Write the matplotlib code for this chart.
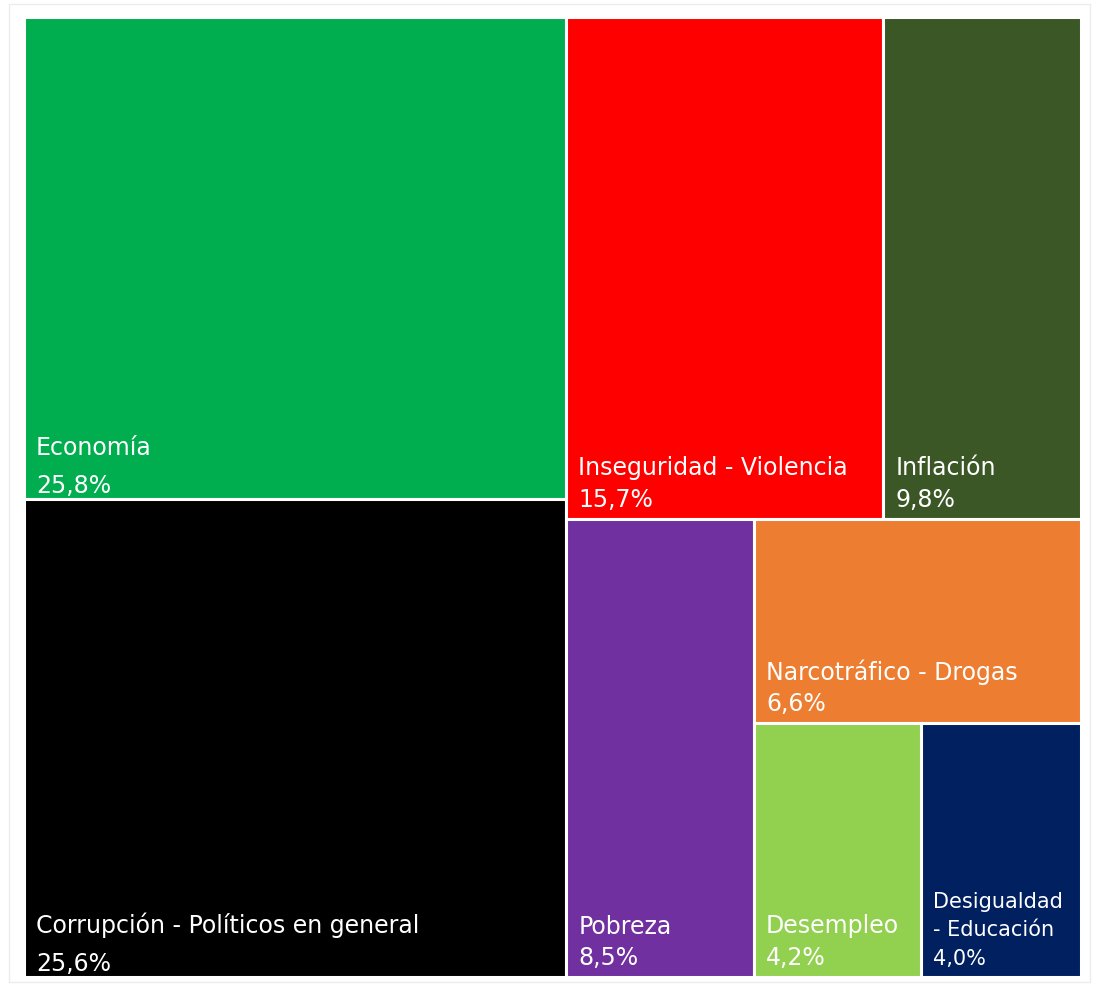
import matplotlib
matplotlib.use("Agg")
import matplotlib.pyplot as plt
from matplotlib.patches import Rectangle

# datos
temas = ["Economía", "Corrupción - Políticos en general", "Inseguridad - Violencia",
         "Inflación", "Pobreza", "Narcotráfico - Drogas", "Desempleo",
         "Desigualdad - Educación"]
valores = [25.8, 25.6, 15.7, 9.8, 8.5, 6.6, 4.2, 4.0]
colores = ["#00ae4f", "#000000", "#ff0000", "#3b5726", "#7030a0",
           "#ed7d31", "#92d050", "#002060"]

# estructura de la partición: 'h' = lado a lado, 'v' = apilados
arbol = ("h", [("v", [0, 1]),
               ("v", [("h", [2, 3]),
                      ("h", [4, ("v", [5, ("h", [6, 7])])])])])

W, H = 1097, 990
plt.rcParams["font.family"] = ["DejaVu Sans"]


def total(nodo):
    if isinstance(nodo, int):
        return valores[nodo]
    return sum(total(k) for k in nodo[1])


def ubicar(nodo, x, y, w, h, out):
    if isinstance(nodo, int):
        out[nodo] = (x, y, w, h)
        return
    d, hijos = nodo
    s = total(nodo)
    for k in hijos:
        f = total(k) / s
        if d == "h":
            ubicar(k, x, y, w * f, h, out)
            x += w * f
        else:
            ubicar(k, x, y, w, h * f, out)
            y += h * f


fig = plt.figure(figsize=(W / 100, H / 100), dpi=100, facecolor="white")
ax = fig.add_axes([0, 0, 1, 1])
ax.set_xlim(0, W)
ax.set_ylim(H, 0)
ax.axis("off")

# marco tenue
ax.add_patch(Rectangle((9, 4), 1081, 978, fill=False, edgecolor="#ececec", lw=1))

rects = {}
ubicar(arbol, 24, 17, 1057, 960, rects)

renderer = fig.canvas.get_renderer()
for i, (x, y, w, h) in rects.items():
    ax.add_patch(Rectangle((x, y), w, h, facecolor=colores[i],
                           edgecolor="white", lw=2.2))
    valor = f"{valores[i]:.1f}".replace(".", ",") + "%"
    fs = 17
    lineas = [temas[i]]
    t = ax.text(0, 0, temas[i], fontsize=fs)
    ancho = t.get_window_extent(renderer).width
    t.remove()
    # los dos bloques grandes llevan más interlineado
    paso, pie = (38, 6) if valores[i] > 20 else (31.5, 12)
    if ancho > w - 20:
        lineas = temas[i].replace(" - ", "\n- ").split("\n")
        fs = 15
        paso = 28.5
    lineas.append(valor)
    yb = y + h - pie
    for j, txt in enumerate(reversed(lineas)):
        ax.text(x + 12, yb - j * paso, txt, color="white", fontsize=fs,
                va="baseline", ha="left")

fig.savefig("out.png", dpi=100, facecolor="white")
